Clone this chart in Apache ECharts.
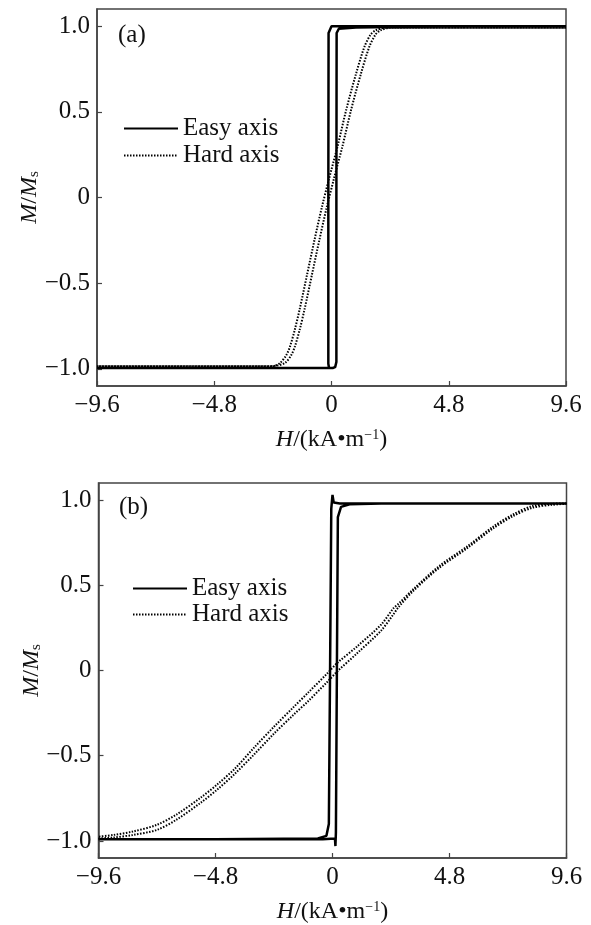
<!DOCTYPE html>
<html>
<head>
<meta charset="utf-8">
<script src="https://cdn.jsdelivr.net/npm/echarts@6/dist/echarts.min.js"></script>
<style>
  html, body { margin: 0; padding: 0; background: #fff; }
  #main { width: 591px; height: 925px; }
</style>
</head>
<body>
<div id="main"></div>
<script>
// H in kA/m, M/Ms

// (a) easy axis loop, up branch then back down
var easyA = [
  [-9.6, -0.995], [-4.8, -0.995], [-1.0, -0.995], [0.05, -0.995], [0.15, -0.99], [0.2, -0.96],
  [0.2, 0.0], [0.21, 0.96], [0.3, 0.985], [1.0, 0.992], [4.8, 1.0], [9.6, 1.0],
  [4.8, 1.0], [0.0, 1.0], [-0.08, 0.99], [-0.12, 0.96], [-0.13, 0.0], [-0.13, -0.97],
  [-0.1, -0.995], [-4.8, -0.995], [-9.6, -0.995]
];
// (a) hard axis, two branches
var hardAUp = [
  [-9.6, -0.985], [-4.8, -0.985], [-2.6, -0.985], [-2.2, -0.98], [-1.9, -0.965], [-1.65, -0.92],
  [-1.5, -0.87], [-1.3, -0.77], [-1.1, -0.65], [-0.8, -0.45], [-0.5, -0.25], [-0.2, -0.06],
  [0.1, 0.11], [0.45, 0.3], [0.8, 0.51], [1.2, 0.72], [1.55, 0.88], [1.8, 0.95], [2.0, 0.975],
  [2.4, 0.99], [4.8, 0.99], [9.6, 0.99]
];
var hardADown = [
  [9.6, 0.99], [4.8, 0.99], [2.2, 0.99], [1.8, 0.975], [1.6, 0.95], [1.35, 0.88], [1.0, 0.72],
  [0.6, 0.51], [0.25, 0.3], [-0.1, 0.11], [-0.4, -0.06], [-0.7, -0.25], [-1.0, -0.45],
  [-1.3, -0.65], [-1.5, -0.77], [-1.7, -0.87], [-1.85, -0.92], [-2.1, -0.965], [-2.4, -0.985],
  [-4.8, -0.985], [-9.6, -0.985]
];

// (b) easy axis loop
var easyB = [
  [-9.6, -0.99], [-4.8, -0.99], [-0.4, -0.99], [0.1, -0.985], [0.12, -1.03], [0.14, -0.95],
  [0.18, 0.0], [0.22, 0.9], [0.35, 0.96], [0.7, 0.975], [2.0, 0.98], [9.6, 0.98],
  [2.0, 0.98], [0.3, 0.98], [0.05, 0.985], [0.0, 1.03], [-0.05, 0.95], [-0.1, 0.0],
  [-0.15, -0.9], [-0.25, -0.97], [-0.6, -0.985], [-4.8, -0.99], [-9.6, -0.99]
];
// (b) hard axis, two branches
var hardBUp = [
  [-9.6, -0.985], [-9.0, -0.98], [-8.2, -0.965], [-7.2, -0.935], [-6.4, -0.875], [-5.4, -0.775],
  [-4.7, -0.695], [-4.0, -0.605], [-3.2, -0.49], [-2.4, -0.37], [-1.6, -0.26], [-1.0, -0.18],
  [-0.2, -0.065], [0.2, -0.005], [1.0, 0.1], [2.0, 0.235], [2.5, 0.33], [2.7, 0.37], [3.3, 0.465],
  [4.4, 0.605], [5.5, 0.715], [6.6, 0.835], [7.4, 0.905], [8.2, 0.955], [9.0, 0.972], [9.6, 0.978]
];
var hardBDown = [
  [9.6, 0.98], [9.0, 0.978], [8.2, 0.965], [7.4, 0.915], [6.6, 0.845], [5.5, 0.725], [4.4, 0.615],
  [3.3, 0.475], [2.7, 0.39], [2.5, 0.365], [2.0, 0.27], [1.0, 0.14], [0.2, 0.045], [-0.2, -0.015],
  [-1.0, -0.13], [-1.6, -0.215], [-2.4, -0.33], [-3.2, -0.45], [-4.0, -0.575], [-4.7, -0.665],
  [-5.4, -0.745], [-6.4, -0.845], [-7.2, -0.905], [-8.2, -0.945], [-9.0, -0.965], [-9.6, -0.975]
];

var yTicks = [-1.0, -0.5, 0, 0.5, 1.0];
var legendNames = ['Easy axis', 'Hard axis'];
var panelLabels = ['(a)', '(b)'];

var FONT = '"Liberation Serif", "Times New Roman", serif';

function fmt(v) {
  if (Math.abs(v) < 1e-9) return '0';
  return v.toFixed(1).replace('-', '\u2212');
}

function xAxisOf(idx) {
  return {
    gridIndex: idx,
    type: 'value',
    min: -9.6,
    max: 9.6,
    interval: 4.8,
    name: '{i|H}/(kA\u2022m{sup|\u22121})',
    nameLocation: 'middle',
    nameGap: 42,
    nameTextStyle: {
      fontFamily: FONT, fontSize: 24, color: '#111',
      rich: {
        i: { fontFamily: FONT, fontSize: 24, fontStyle: 'italic', color: '#111' },
        sup: { fontFamily: FONT, fontSize: 14, verticalAlign: 'top', color: '#111', lineHeight: 14 }
      }
    },
    splitLine: { show: false },
    axisLine: { show: true, onZero: false, lineStyle: { color: '#444', width: 1.5 } },
    axisTick: { show: true, inside: true, length: 5, lineStyle: { color: '#444', width: 1.2 } },
    axisLabel: { formatter: fmt, fontFamily: FONT, fontSize: 25, color: '#111', margin: 7 }
  };
}

function yAxisOf(idx) {
  return {
    gridIndex: idx,
    type: 'value',
    min: -1.1,
    max: 1.1,
    name: '{i|M}/{i|M}{sub|s}',
    nameLocation: 'middle',
    nameRotate: 90,
    nameGap: 55,
    nameMoveOverlap: false,
    nameTextStyle: {
      fontFamily: FONT, fontSize: 24, color: '#111',
      rich: {
        i: { fontFamily: FONT, fontSize: 24, fontStyle: 'italic', color: '#111' },
        sub: { fontFamily: FONT, fontSize: 15, verticalAlign: 'bottom', color: '#111' }
      }
    },
    splitLine: { show: false },
    axisLine: { show: true, onZero: false, lineStyle: { color: '#444', width: 1.5 } },
    axisTick: { show: true, inside: true, length: 5, customValues: yTicks, lineStyle: { color: '#444', width: 1.2 } },
    axisLabel: { customValues: yTicks, formatter: fmt, fontFamily: FONT, fontSize: 25, color: '#111', margin: 7 }
  };
}

function easySeries(idx, data) {
  return {
    name: legendNames[0], type: 'line', xAxisIndex: idx, yAxisIndex: idx,
    data: data, symbol: 'none', showSymbol: false, smooth: false,
    lineStyle: { color: '#000', width: 2.5 }, itemStyle: { color: '#000' },
    z: 3
  };
}
function hardSeries(idx, data) {
  return {
    name: legendNames[1], type: 'line', xAxisIndex: idx, yAxisIndex: idx,
    data: data, symbol: 'none', showSymbol: false, smooth: 0.3,
    lineStyle: { color: '#000', width: 2, type: [1.5, 1.5] }, itemStyle: { color: '#000' },
    z: 2
  };
}

var legendBase = {
  data: legendNames, orient: 'vertical',
  itemWidth: 54, itemHeight: 14,
  itemStyle: { opacity: 0 },
  textStyle: { fontFamily: FONT, fontSize: 25, color: '#111' }
};

var myChart = echarts.init(document.getElementById('main'));
myChart.setOption({
  backgroundColor: '#fff',
  animation: false,
  title: [
    { text: panelLabels[0], left: 113, top: 18, textStyle: { fontFamily: FONT, fontSize: 25, fontWeight: 'normal', color: '#111' } },
    { text: panelLabels[1], left: 114, top: 490, textStyle: { fontFamily: FONT, fontSize: 25, fontWeight: 'normal', color: '#111' } }
  ],
  grid: [
    { left: 97, right: 25, top: 9, height: 377, show: true, borderColor: '#444', borderWidth: 1.5, containLabel: false },
    { left: 98.5, right: 24.5, top: 483, height: 375, show: true, borderColor: '#444', borderWidth: 1.5, containLabel: false }
  ],
  legend: [
    Object.assign({}, legendBase, { left: 118, top: 111, itemGap: 2,
      textStyle: Object.assign({}, legendBase.textStyle, { lineHeight: 24 }) }),
    Object.assign({}, legendBase, { left: 127, top: 571, itemGap: 1,
      textStyle: Object.assign({}, legendBase.textStyle, { lineHeight: 22 }) })
  ],
  xAxis: [xAxisOf(0), xAxisOf(1)],
  yAxis: [yAxisOf(0), yAxisOf(1)],
  series: [
    easySeries(0, easyA),
    hardSeries(0, hardAUp),
    hardSeries(0, hardADown),
    easySeries(1, easyB),
    hardSeries(1, hardBUp),
    hardSeries(1, hardBDown)
  ]
});
</script>
</body>
</html>
